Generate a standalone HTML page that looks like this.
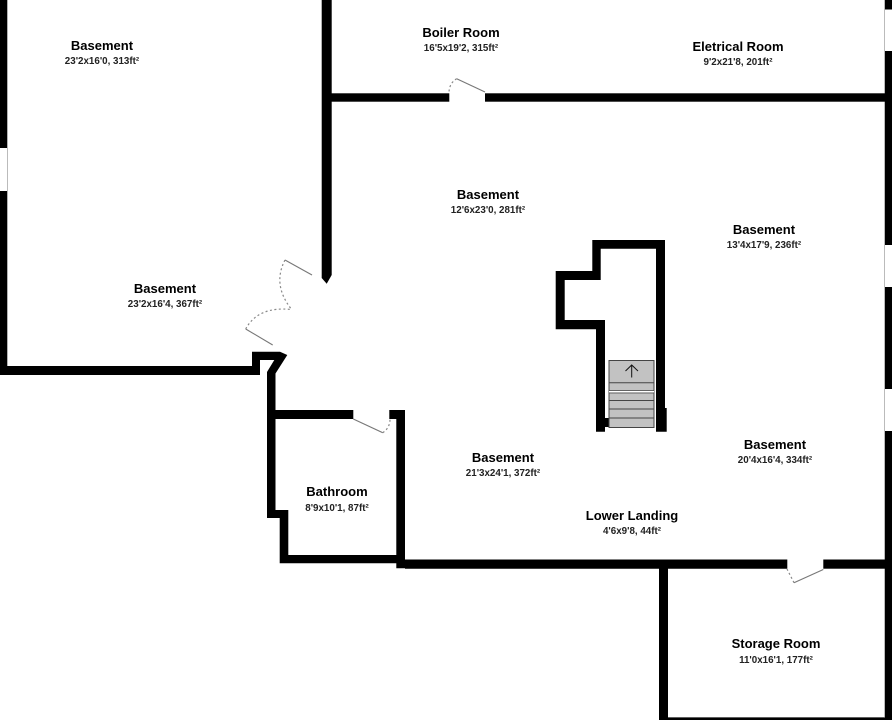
<!DOCTYPE html>
<html><head><meta charset="utf-8"><style>
html,body{margin:0;padding:0;background:#fff;width:892px;height:720px;overflow:hidden}
svg{display:block}
text{font-family:"Liberation Sans",sans-serif;text-anchor:middle;fill:#000}
.t{font-size:13px;font-weight:bold}
.s{font-size:9.8px;font-weight:bold;fill:#222}
.d{fill:none;stroke:#777;stroke-width:1.1}
.o{fill:none;stroke:#888;stroke-width:1.2;stroke-dasharray:2 2.5}
.g{fill:none;stroke:#bbb;stroke-width:1}
.f{fill:#000}
.st{stroke:#444;stroke-width:1}
</style></head><body>
<svg width="892" height="720" viewBox="0 0 892 720" xmlns="http://www.w3.org/2000/svg">
<rect width="892" height="720" fill="#fff"/>
<!-- grey hairlines -->
<path class="g" d="M884.5 0V717.5H668M7.5 148V191"/>
<!-- right wall -->
<rect class="f" x="885" y="0" width="7" height="9.5"/>
<rect class="f" x="885" y="51" width="7" height="194"/>
<rect class="f" x="885" y="287" width="7" height="102"/>
<rect class="f" x="885" y="431" width="7" height="289"/>
<!-- left wall -->
<rect class="f" x="0" y="0" width="7.3" height="148"/>
<rect class="f" x="0" y="191" width="7.3" height="184"/>
<rect class="f" x="0" y="366" width="260" height="9"/>
<!-- upper walls -->
<path class="f" d="M321.7 0H331.7V275L326.7 283.7L321.7 278Z"/>
<rect class="f" x="331" y="93.3" width="118.3" height="8.4"/>
<rect class="f" x="485" y="93.3" width="400" height="8.4"/>
<!-- bathroom / jog -->
<path class="f" d="M252 351.7H280L287.3 355L275.5 373.5V410H353.3V419H275.5V510H288.3V555H396.3V419H389.3V410H405V559.5H787.3V568.7H668V720H659V568.7H405V568.3H396.3V563.3H279.7V518H267V372L274.3 360H260V375H252Z"/>
<rect class="f" x="823.3" y="559.5" width="62" height="9.2"/>
<rect class="f" x="659" y="717.5" width="233" height="2.5"/>
<!-- stairwell walls -->
<path class="f" d="M592.3 240H665V408H666.7V431.7H656V248.7H600.7V280H564.7V320H605V418H609V427H605V431.7H596V329.3H555.7V271H592.3Z"/>
<!-- stairs -->
<rect x="609" y="360.5" width="45" height="67" fill="#c2c2c2" stroke="#444" stroke-width="1"/>
<path class="st" d="M609 382.7H654M609 400.5H654M609 409H654M609 418H654"/>
<path d="M609 391.7H654" stroke="#fff" stroke-width="1.4"/>
<path d="M609 390.5H654M609 393H654" stroke="#444" stroke-width=".7"/>
<path d="M631.7 377.5V365M625.5 371L631.7 365L638 371" fill="none" stroke="#111" stroke-width="1"/>
<!-- doors -->
<path class="d" d="M485 92L456.7 78.7"/>
<path class="o" d="M456.7 78.7Q449.5 83 449 92"/>
<path class="d" d="M312 275L285 260"/>
<path class="o" d="M285 260Q272 285 291.7 309.5"/>
<path class="d" d="M272.7 345L245.7 329"/>
<path class="o" d="M245.7 329Q258 306 291.7 309.5"/>
<path class="d" d="M353.3 419L382.7 432.7"/>
<path class="o" d="M382.7 432.7Q390 428 390 419"/>
<path class="d" d="M823.3 569.5L794 582.7"/>
<path class="o" d="M794 582.7L787 569"/>
<!-- labels -->
<text class="t" x="102" y="50">Basement</text><text class="s" x="102" y="64">23'2x16'0, 313ft²</text>
<text class="t" x="461" y="37">Boiler Room</text><text class="s" x="461" y="51">16'5x19'2, 315ft²</text>
<text class="t" x="738" y="51">Eletrical Room</text><text class="s" x="738" y="65">9'2x21'8, 201ft²</text>
<text class="t" x="488" y="199">Basement</text><text class="s" x="488" y="213">12'6x23'0, 281ft²</text>
<text class="t" x="764" y="234">Basement</text><text class="s" x="764" y="248">13'4x17'9, 236ft²</text>
<text class="t" x="165" y="293">Basement</text><text class="s" x="165" y="307">23'2x16'4, 367ft²</text>
<text class="t" x="337" y="496">Bathroom</text><text class="s" x="337" y="511">8'9x10'1, 87ft²</text>
<text class="t" x="503" y="462">Basement</text><text class="s" x="503" y="476">21'3x24'1, 372ft²</text>
<text class="t" x="775" y="449">Basement</text><text class="s" x="775" y="463">20'4x16'4, 334ft²</text>
<text class="t" x="632" y="520">Lower Landing</text><text class="s" x="632" y="534">4'6x9'8, 44ft²</text>
<text class="t" x="776" y="648">Storage Room</text><text class="s" x="776" y="663">11'0x16'1, 177ft²</text>
</svg>
</body></html>
